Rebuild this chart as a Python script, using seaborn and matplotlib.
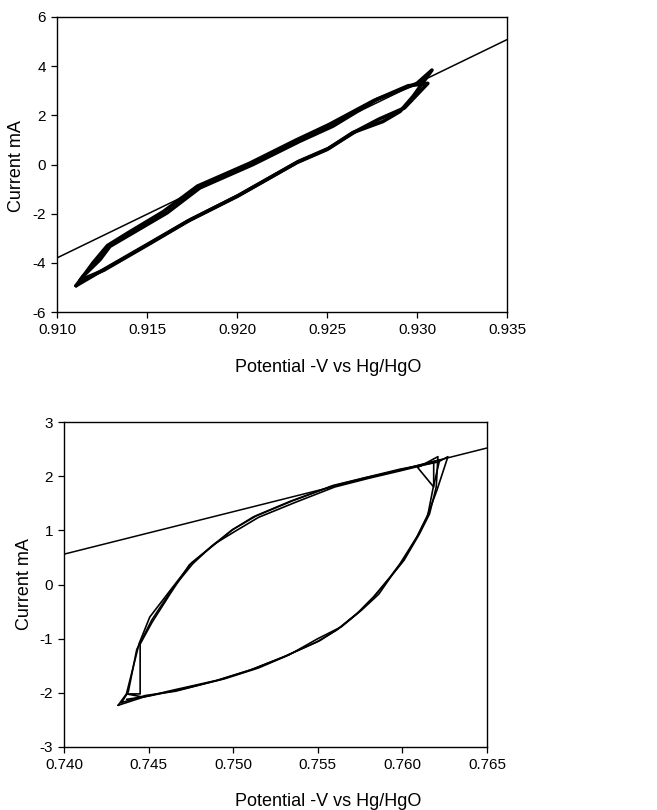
import numpy as np
import pandas as pd
import matplotlib
matplotlib.use("Agg")
import matplotlib.pyplot as plt
import seaborn as sns

# ---------------- data: top panel ----------------
top_c1_x = [0.91106, 0.91239, 0.91500, 0.91722, 0.92000, 0.92333, 0.92500, 0.92644, 0.92811, 0.92906, 0.92978, 0.93083,
            0.93000, 0.92778, 0.92533, 0.92350, 0.92089, 0.91794, 0.91611, 0.91406, 0.91294, 0.91239, 0.91144, 0.91106]
top_c1_y = [-4.93, -4.36, -3.26, -2.32, -1.30, 0.08, 0.61, 1.30, 1.75, 2.16, 2.77, 3.84,
            3.30, 2.65, 1.56, 0.95, 0.00, -0.95, -1.97, -2.85, -3.33, -3.87, -4.55, -4.93]
top_c2_x = [0.91130, 0.91260, 0.91520, 0.91740, 0.92010, 0.92340, 0.92510, 0.92660, 0.92790, 0.92930, 0.93060,
            0.92950, 0.92760, 0.92510, 0.92330, 0.92070, 0.91780, 0.91590, 0.91390, 0.91280, 0.91200, 0.91130]
top_c2_y = [-4.70, -4.30, -3.20, -2.25, -1.25, 0.12, 0.66, 1.35, 1.85, 2.30, 3.30,
            3.20, 2.60, 1.62, 1.00, 0.05, -0.88, -1.92, -2.80, -3.30, -4.00, -4.70]
top_line_x = [0.910, 0.935]
top_line_y = [-3.80, 5.08]

# ---------------- data: bottom panel ----------------
bot_c1_x = [0.74320, 0.74468, 0.74645, 0.74902, 0.75099, 0.75296, 0.75494, 0.75612, 0.75731, 0.75829, 0.75928,
            0.75987, 0.76086, 0.76145, 0.76204, 0.76269,
            0.76210, 0.75987, 0.75790, 0.75592, 0.75355, 0.75138, 0.75000, 0.74882, 0.74754, 0.74625, 0.74507,
            0.74444, 0.74369, 0.74320]
bot_c1_y = [-2.23, -2.08, -1.95, -1.77, -1.58, -1.34, -1.06, -0.84, -0.54, -0.23, 0.14,
            0.39, 0.88, 1.25, 1.74, 2.36,
            2.26, 2.13, 1.98, 1.83, 1.55, 1.27, 1.02, 0.72, 0.40, -0.12, -0.60,
            -1.09, -2.02, -2.23]
bot_c2_x = [0.74370, 0.74500, 0.74700, 0.74950, 0.75150, 0.75330, 0.75500, 0.75640, 0.75760, 0.75860, 0.75940,
            0.76010, 0.76100, 0.76160, 0.76200, 0.76210, 0.76090, 0.76185, 0.76185,
            0.75990, 0.75800, 0.75600, 0.75370, 0.75150, 0.75010, 0.74890, 0.74740, 0.74630, 0.74520,
            0.74450, 0.74450, 0.74370, 0.74470]
bot_c2_y = [-2.12, -2.06, -1.93, -1.74, -1.54, -1.30, -1.00, -0.78, -0.47, -0.18, 0.18,
            0.45, 0.93, 1.30, 1.80, 2.36, 2.16, 1.80, 2.25,
            2.10, 1.96, 1.80, 1.52, 1.24, 0.98, 0.75, 0.36, -0.16, -0.70,
            -1.10, -2.02, -2.02, -2.08]
bot_c3_x = [0.74340, 0.74480, 0.74660, 0.74920, 0.75120, 0.75310, 0.75510, 0.75620, 0.75745, 0.75840, 0.75935,
            0.76000, 0.76090, 0.76150, 0.76180, 0.76220,
            0.76000, 0.75780, 0.75580, 0.75340, 0.75120, 0.74990, 0.74870, 0.74760, 0.74640, 0.74520,
            0.74430, 0.74380, 0.74340]
bot_c3_y = [-2.18, -2.05, -1.97, -1.76, -1.56, -1.32, -1.04, -0.82, -0.50, -0.20, 0.16,
            0.42, 0.90, 1.28, 1.76, 2.30,
            2.12, 1.97, 1.81, 1.54, 1.25, 1.00, 0.70, 0.38, -0.08, -0.65,
            -1.20, -1.98, -2.18]
bot_line_x = [0.740, 0.765]
bot_line_y = [0.56, 2.52]

top_xticks = [0.910, 0.915, 0.920, 0.925, 0.930, 0.935]
top_yticks = [-6, -4, -2, 0, 2, 4, 6]
bot_xticks = [0.740, 0.745, 0.750, 0.755, 0.760, 0.765]
bot_yticks = [-3, -2, -1, 0, 1, 2, 3]
xlabel = "Potential -V vs Hg/HgO"
ylabel = "Current mA"


def make_df(cycles):
    frames = []
    for i, (xs, ys) in enumerate(cycles):
        frames.append(pd.DataFrame({"x": xs, "y": ys, "cycle": i}))
    return pd.concat(frames, ignore_index=True)


sns.set_theme(style="white")
plt.rcParams["font.family"] = ["Liberation Sans", "DejaVu Sans"]

fig = plt.figure(figsize=(6.57, 8.10), dpi=100)
ax1 = fig.add_axes([57 / 657, 1 - 312 / 810, 450 / 657, 295 / 810])
ax2 = fig.add_axes([64 / 657, 1 - 747 / 810, 423 / 657, 325 / 810])

df_top = make_df([(top_c1_x, top_c1_y), (top_c2_x, top_c2_y)])
sns.lineplot(data=df_top, x="x", y="y", units="cycle", estimator=None, sort=False,
             color="black", linewidth=2.6, ax=ax1, legend=False)
sns.lineplot(x=top_line_x, y=top_line_y, color="black", linewidth=1.1, ax=ax1, sort=False)

df_bot = make_df([(bot_c1_x, bot_c1_y), (bot_c2_x, bot_c2_y), (bot_c3_x, bot_c3_y)])
sns.lineplot(data=df_bot, x="x", y="y", units="cycle", estimator=None, sort=False,
             color="black", linewidth=1.2, ax=ax2, legend=False)
sns.lineplot(x=bot_line_x, y=bot_line_y, color="black", linewidth=1.1, ax=ax2, sort=False)

for ax, xt, yt in [(ax1, top_xticks, top_yticks), (ax2, bot_xticks, bot_yticks)]:
    ax.set_xlim(xt[0], xt[-1])
    ax.set_ylim(yt[0], yt[-1])
    ax.set_xticks(xt)
    ax.set_xticklabels([f"{v:.3f}" for v in xt])
    ax.set_yticks(yt)
    ax.set_yticklabels([str(v) for v in yt])
    ax.set_xlabel("")
    ax.set_ylabel("")
    ax.tick_params(axis="both", which="major", direction="out", length=4, width=0.9,
                   color="black", labelsize=11, labelcolor="black", pad=4,
                   bottom=True, left=True, top=False, right=False)
    for s in ax.spines.values():
        s.set_color("black")
        s.set_linewidth(1.0)

fig.text(328 / 657, 1 - 367 / 810, xlabel, ha="center", va="center", fontsize=13, color="black")
fig.text(328 / 657, 1 - 802 / 810, xlabel, ha="center", va="center", fontsize=13, color="black")
fig.text(17 / 657, 1 - 166 / 810, ylabel, ha="center", va="center", rotation=90, fontsize=13, color="black")
fig.text(25 / 657, 1 - 584 / 810, ylabel, ha="center", va="center", rotation=90, fontsize=13, color="black")

fig.savefig("out.png", dpi=100, facecolor="white")
